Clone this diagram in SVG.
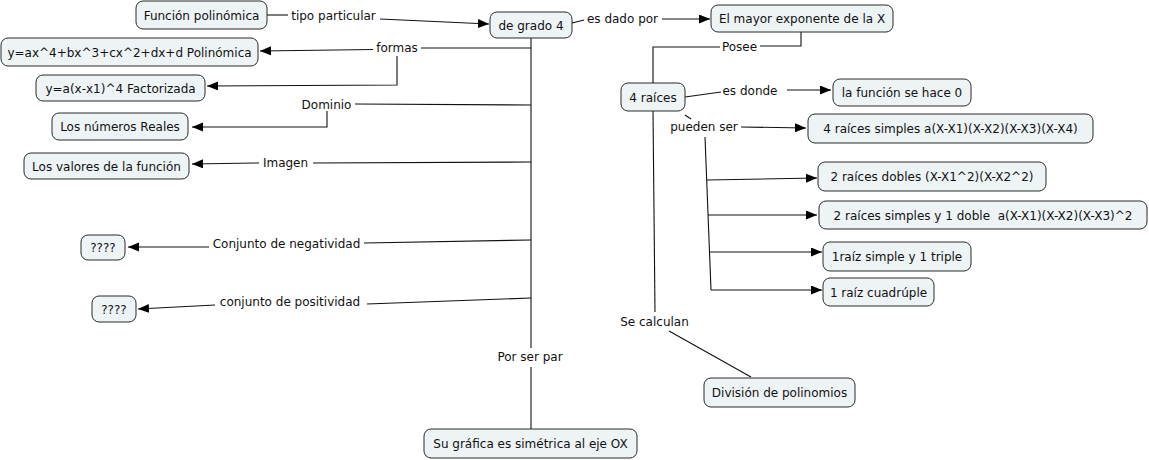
<svg xmlns="http://www.w3.org/2000/svg" width="1149" height="460" viewBox="0 0 1149 460">
<style>
.node rect{fill:#EEF3F6;stroke:#2a2a2a;stroke-width:1}
text{font-family:"DejaVu Sans","Verdana",sans-serif;font-size:12px;fill:#111;text-anchor:middle;white-space:pre}
.c line,.c polyline{stroke:#111;stroke-width:1.1;fill:none}
.a{marker-end:url(#arr)}
</style>
<defs>
<marker id="arr" markerUnits="userSpaceOnUse" markerWidth="12" markerHeight="10" refX="11" refY="4.5" orient="auto">
<path d="M0,0 L11,4.5 L0,9 z" fill="#000"/>
</marker>
</defs>
<rect width="1149" height="460" fill="#fff"/>
<g class="c" id="connectors">
<line x1="267" y1="15" x2="288" y2="15"/>
<line class="a" x1="380" y1="19" x2="489" y2="24"/>
<line x1="572" y1="23" x2="584" y2="20"/>
<line class="a" x1="662" y1="19" x2="710" y2="19"/>
<line x1="531" y1="38" x2="531" y2="348"/>
<line x1="531" y1="367" x2="531" y2="429"/>
<line x1="421" y1="48" x2="531" y2="48"/>
<line class="a" x1="373" y1="49.5" x2="260" y2="51"/>
<polyline class="a" points="397,56 397,85 207,86"/>
<line x1="355" y1="104" x2="531" y2="105"/>
<polyline class="a" points="327,111 327,127 192,127"/>
<line x1="313" y1="163" x2="531" y2="162"/>
<line class="a" x1="259" y1="163" x2="192" y2="164"/>
<line x1="364" y1="243" x2="531" y2="240"/>
<line class="a" x1="209" y1="247" x2="128" y2="247"/>
<line x1="367" y1="304" x2="531" y2="298"/>
<line class="a" x1="215" y1="305" x2="138" y2="309"/>
<polyline points="801,32 801,46 760,46"/>
<polyline points="720,47 653,47 653,83"/>
<line x1="685" y1="97" x2="721" y2="92"/>
<line class="a" x1="787" y1="90" x2="831" y2="90"/>
<line x1="685" y1="115" x2="691" y2="119"/>
<line class="a" x1="741" y1="127" x2="806" y2="128"/>
<line x1="705" y1="137" x2="711" y2="290"/>
<line class="a" x1="707" y1="180" x2="817" y2="178"/>
<line class="a" x1="708" y1="215" x2="817" y2="215"/>
<line class="a" x1="709" y1="252" x2="822" y2="252"/>
<line class="a" x1="711" y1="290" x2="822" y2="290"/>
<line x1="653" y1="111" x2="655" y2="312"/>
<line x1="669" y1="331" x2="751" y2="377"/>
</g>
<g id="labels">
<text x="333.5" y="19.5">tipo particular</text>
<text x="397" y="52">formas</text>
<text x="326.5" y="108.5">Dominio</text>
<text x="285.5" y="166.5">Imagen</text>
<text x="286.5" y="248">Conjunto de negatividad</text>
<text x="290" y="306">conjunto de positividad</text>
<text x="622.5" y="23">es dado por</text>
<text x="739.5" y="51">Posee</text>
<text x="750" y="94.5">es donde</text>
<text x="704" y="130.5">pueden ser</text>
<text x="654.5" y="326">Se calculan</text>
<text x="530" y="360.5">Por ser par</text>
</g>
<g class="node" id="n1"><rect x="136" y="1" width="131" height="28" rx="7"/><text x="201.5" y="19.5">Función polinómica</text></g>
<g class="node" id="n2"><rect x="1" y="38" width="257" height="28" rx="7"/><text x="129.5" y="56.5">y=ax^4+bx^3+cx^2+dx+d Polinómica</text></g>
<g class="node" id="n3"><rect x="36" y="75" width="169" height="26" rx="7"/><text x="120.5" y="92.5">y=a(x-x1)^4 Factorizada</text></g>
<g class="node" id="n4"><rect x="52" y="113" width="136" height="27" rx="7"/><text x="120" y="131">Los números Reales</text></g>
<g class="node" id="n5"><rect x="24" y="153" width="165" height="26" rx="7"/><text x="106.5" y="170.5">Los valores de la función</text></g>
<g class="node" id="n6"><rect x="490" y="12" width="82" height="26" rx="7"/><text x="531" y="29.5">de grado 4</text></g>
<g class="node" id="n7"><rect x="711" y="5" width="182" height="27" rx="7"/><text x="802" y="23">El mayor exponente de la X</text></g>
<g class="node" id="n8"><rect x="621" y="83" width="64" height="28" rx="7"/><text x="653" y="101.5">4 raíces</text></g>
<g class="node" id="n9"><rect x="833" y="79" width="138" height="27" rx="7"/><text x="902" y="97">la función se hace 0</text></g>
<g class="node" id="n10"><rect x="808" y="114" width="285" height="29" rx="7"/><text x="950.5" y="133">4 raíces simples a(X-X1)(X-X2)(X-X3)(X-X4)</text></g>
<g class="node" id="n11"><rect x="818" y="162" width="228" height="29" rx="7"/><text x="932" y="181">2 raíces dobles (X-X1^2)(X-X2^2)</text></g>
<g class="node" id="n12"><rect x="819" y="201" width="328" height="28" rx="7"/><text x="983" y="219.5">2 raíces simples y 1 doble  a(X-X1)(X-X2)(X-X3)^2</text></g>
<g class="node" id="n13"><rect x="823" y="242" width="148" height="29" rx="7"/><text x="897" y="261">1raíz simple y 1 triple</text></g>
<g class="node" id="n14"><rect x="823" y="278" width="111" height="28" rx="7"/><text x="878.5" y="296.5">1 raíz cuadrúple</text></g>
<g class="node" id="n15"><rect x="81" y="235" width="44" height="25" rx="7"/><text x="103" y="252">????</text></g>
<g class="node" id="n16"><rect x="92" y="296" width="44" height="26" rx="7"/><text x="114" y="313.5">????</text></g>
<g class="node" id="n17"><rect x="704" y="378" width="151" height="29" rx="7"/><text x="779.5" y="397">División de polinomios</text></g>
<g class="node" id="n18"><rect x="424" y="429" width="213" height="29" rx="7"/><text x="530.5" y="448">Su gráfica es simétrica al eje OX</text></g>
</svg>
